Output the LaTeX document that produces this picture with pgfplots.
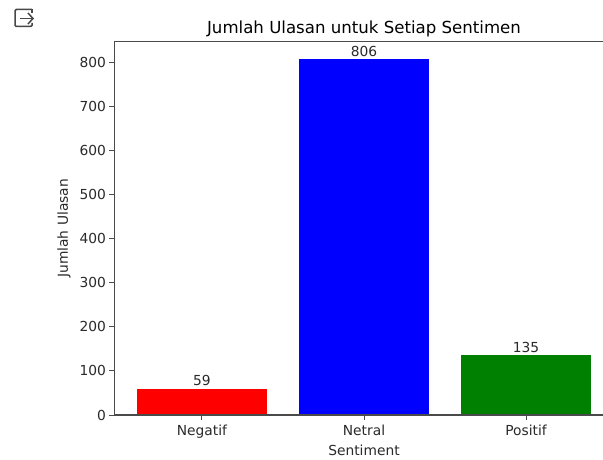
\documentclass[border=0pt]{standalone}
\usepackage{fontspec}
\setmainfont{DejaVu Sans}
\usepackage{pgfplots}
\pgfplotsset{compat=1.18}
\definecolor{spine}{HTML}{4A4A4A}
\definecolor{txt}{HTML}{2A2A2A}
\definecolor{icon}{HTML}{474747}
\definecolor{mplgreen}{RGB}{0,128,0}
\begin{document}
\begin{tikzpicture}[x=1pt,y=1pt]
\path[use as bounding box,clip] (0,0) rectangle (603,459);
\fill[white] (0,0) rectangle (603,459);
\begin{axis}[
  at={(114.5pt,44pt)},anchor=south west,
  scale only axis,width=499pt,height=373.3pt,
  xmin=-0.54,xmax=2.54,ymin=0,ymax=846.3,
  xtick={0,1,2},xticklabels={Negatif,Netral,Positif},
  ytick={0,100,200,300,400,500,600,700,800},
  tick align=outside,tick pos=left,
  major tick length=5pt,
  tick style={spine,line width=1pt},
  axis line style={spine,line width=1.1pt},
  axis on top,
  /pgf/number format/assume math mode=true,
  tick label style={font=\fontsize{13.8pt}{15pt}\selectfont,text=txt},
  xticklabel style={yshift=-1.5pt},
  title={Jumlah Ulasan untuk Setiap Sentimen},
  title style={font=\fontsize{16.6pt}{18pt}\selectfont,text=black,at={(axis description cs:0.5,1)},anchor=base,yshift=2.5pt},
  xlabel={Sentiment},
  ylabel={Jumlah Ulasan},
  label style={font=\fontsize{13.8pt}{15pt}\selectfont,text=txt},
  xlabel style={at={(axis description cs:0.5,0)},anchor=center,yshift=-35.5pt},
  ylabel style={at={(axis description cs:0,0.5)},anchor=center,rotate=0,yshift=50.5pt},
  every node near coord/.style={font=\fontsize{13.8pt}{15pt}\selectfont,text=txt,inner sep=0pt,anchor=base,yshift=3pt},
  nodes near coords,
  point meta=y,
  nodes near coords style={/pgf/number format/fixed},
]
\addplot[ybar,bar width=0.8,bar shift=0pt,fill=red,draw=none] coordinates {(0,59)};
\addplot[ybar,bar width=0.8,bar shift=0pt,fill=blue,draw=none] coordinates {(1,806)};
\addplot[ybar,bar width=0.8,bar shift=0pt,fill=mplgreen,draw=none] coordinates {(2,135)};
\end{axis}
\draw[icon,line width=1.5pt,rounded corners=1.2pt] (32,449.5) -- (15,449.5) -- (15,432.5) -- (32,432.5) -- (32,436);
\draw[icon,line width=1.5pt] (32,449.5) -- (32,446);
\draw[icon,line width=1.5pt] (20,440.5) -- (32.5,440.5);
\draw[icon,line width=1.5pt] (28,446) -- (33,440.5) -- (28,435);
\end{tikzpicture}
\end{document}
